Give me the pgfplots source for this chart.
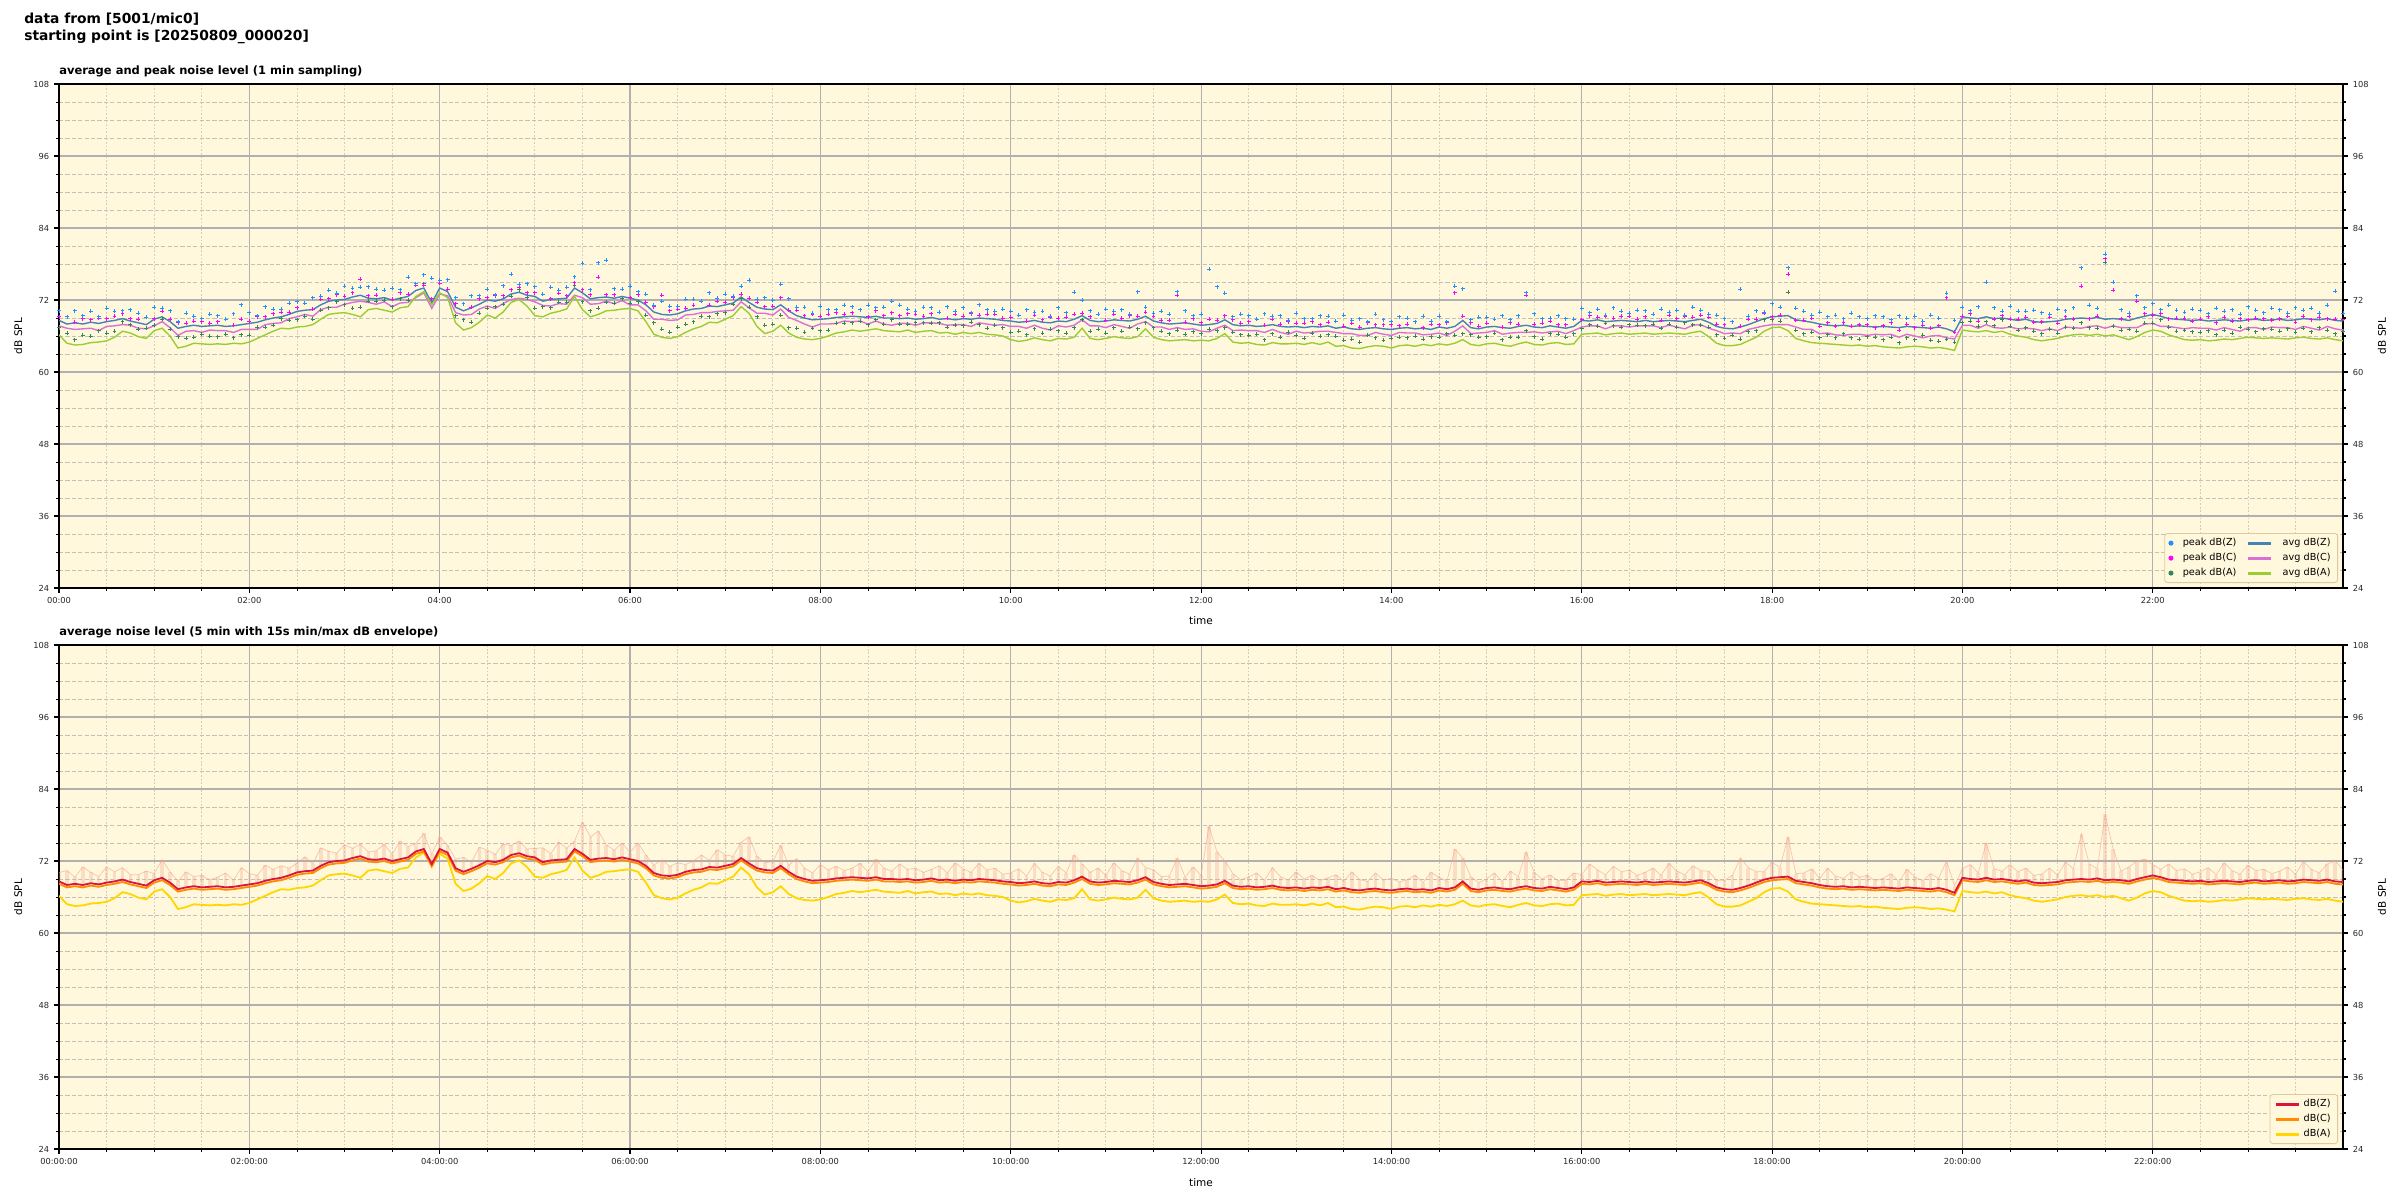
\documentclass[border=0pt]{standalone}
\usepackage{pgfplots}
\pgfplotsset{compat=1.18}
\usepackage{pgfplotstable}
\usepackage{fontspec}
\setmainfont{DejaVu Sans}
\setsansfont{DejaVu Sans}

\definecolor{bgc}{HTML}{FFF8DC}
\definecolor{gridmaj}{HTML}{B0B0B0}
\definecolor{gridminy}{HTML}{C4C0B8}
\definecolor{gridminx}{HTML}{D2CCBC}
\definecolor{peakZ}{HTML}{1E90FF}
\definecolor{peakC}{HTML}{FF00FF}
\definecolor{peakA}{HTML}{2E8B57}
\definecolor{avgZ}{HTML}{4682B4}
\definecolor{avgC}{HTML}{DA70D6}
\definecolor{avgA}{HTML}{9ACD32}
\definecolor{cZ}{HTML}{DC143C}
\definecolor{cC}{HTML}{FF8C00}
\definecolor{cA}{HTML}{FFD700}
\definecolor{envc}{HTML}{F4A08A}
\definecolor{legedge}{HTML}{DEC9A0}

\pgfplotstableread{
t Z C A pZ pC pA E
0 68.6 67.7 66.2 70.2 69.2 67.4 70.1
5 68.0 67.3 64.8 69.2 69.2 66.5 70.4
10 68.2 67.1 64.5 70.2 68.3 65.4 69.3
15 68.0 67.2 64.6 69.4 68.9 66.1 71.0
20 68.3 67.3 64.9 70.1 68.7 66.0 70.1
25 68.1 66.9 65.0 69.2 69.0 66.9 69.4
30 68.4 67.6 65.2 70.6 68.9 66.5 71.0
35 68.6 67.7 65.8 70.1 69.3 66.8 70.2
40 68.9 67.9 66.8 70.2 69.7 68.4 70.9
45 68.5 67.8 66.5 70.4 68.9 67.9 69.7
50 68.2 67.3 65.9 69.8 68.8 67.1 69.7
55 67.9 67.2 65.6 69.1 69.1 67.3 70.3
60 68.8 67.7 66.9 70.8 68.9 67.8 69.9
65 69.2 68.4 67.3 70.6 70.1 68.8 72.2
70 68.4 67.4 66.0 70.2 68.8 67.1 70.2
75 67.3 66.1 64.0 68.4 68.2 65.9 68.6
80 67.6 66.8 64.3 69.8 68.1 65.6 70.2
85 67.8 66.9 64.8 69.3 68.5 65.8 69.4
90 67.6 66.6 64.7 68.9 68.4 66.3 69.6
95 67.7 67.0 64.6 69.6 68.1 66.0 68.9
100 67.8 66.9 64.7 69.4 68.4 65.9 69.3
105 67.6 66.9 64.6 68.8 68.8 66.3 70.0
110 67.7 66.6 64.8 69.7 67.8 65.7 68.8
115 67.9 67.1 64.7 71.2 68.8 66.2 70.9
120 68.1 67.1 65.0 69.9 68.5 66.1 69.9
125 68.3 67.1 65.6 69.4 69.2 67.5 69.6
130 68.7 67.9 66.2 70.9 69.2 67.5 71.3
135 69.0 68.1 66.8 70.5 69.7 67.8 70.6
140 69.2 68.2 67.3 70.5 70.0 68.9 71.2
145 69.6 68.9 67.2 71.5 70.0 68.6 70.8
150 70.1 69.2 67.5 71.7 70.7 68.7 71.6
155 70.3 69.6 67.6 71.5 71.5 69.3 72.7
160 70.4 69.3 67.9 72.4 70.5 68.8 71.5
165 71.2 70.4 68.8 72.6 72.1 70.3 74.2
170 71.8 70.8 69.6 73.6 72.2 70.7 73.6
175 72.0 70.8 69.8 73.1 72.9 71.7 73.3
180 72.1 71.3 69.9 74.3 72.6 71.2 74.7
185 72.5 71.6 69.6 74.0 73.2 70.6 74.1
190 72.8 71.8 69.2 74.1 75.5 70.8 74.8
195 72.3 71.6 70.4 74.2 72.7 71.8 73.5
200 72.2 71.3 70.6 73.8 72.8 71.8 73.7
205 72.4 71.7 70.3 73.6 73.6 72.0 74.8
210 72.0 70.9 70.0 74.0 72.1 70.9 73.1
215 72.3 71.5 70.7 73.7 73.2 72.2 75.3
220 72.6 71.6 70.9 75.8 73.0 72.0 74.4
225 73.6 72.4 72.6 74.7 74.5 74.5 74.9
230 74.0 73.2 73.4 76.2 74.5 74.7 76.6
235 71.5 70.6 71.2 75.6 72.2 72.2 73.1
240 74.0 73.0 73.2 75.3 74.8 74.8 76.0
245 73.4 72.7 72.4 75.4 73.8 73.8 74.6
250 70.8 69.9 68.2 72.4 71.4 69.4 72.3
255 70.2 69.5 67.0 71.4 71.4 68.7 72.6
260 70.7 69.6 67.4 72.7 70.8 68.3 71.8
265 71.3 70.5 68.3 72.7 72.2 69.8 74.3
270 72.0 71.0 69.5 73.8 72.4 70.6 73.8
275 71.8 70.6 69.0 72.9 72.7 70.9 73.1
280 72.2 71.4 70.0 74.4 72.7 71.3 74.8
285 73.0 72.1 71.6 76.3 73.7 72.6 74.6
290 73.3 72.3 72.1 74.6 74.1 73.7 75.3
295 72.8 72.1 71.0 74.7 73.2 72.4 74.0
300 72.6 71.7 69.4 74.2 73.2 70.6 74.1
305 71.8 71.1 69.2 73.0 73.0 70.9 74.2
310 72.1 71.0 69.8 74.1 72.2 70.7 73.2
315 72.2 71.4 70.1 73.6 73.1 71.6 75.2
320 72.3 71.3 70.5 74.1 72.7 71.6 74.1
325 74.0 72.8 72.6 75.9 74.9 74.5 75.3
330 73.2 72.4 70.4 78.1 73.7 71.7 78.5
335 72.2 71.3 69.2 73.7 72.9 70.2 76.0
340 72.4 71.4 69.6 78.2 75.8 70.6 77.0
345 72.5 71.8 70.2 78.6 72.9 71.6 74.7
350 72.3 71.4 70.3 73.9 72.9 71.5 73.8
355 72.6 71.9 70.5 73.8 73.8 72.2 75.0
360 72.3 71.2 70.6 74.3 72.4 71.5 73.4
365 72.0 71.2 70.2 73.4 72.9 71.7 75.0
370 71.2 70.2 68.4 73.0 71.6 69.5 73.0
375 70.0 68.8 66.3 71.1 70.9 68.2 71.3
380 69.6 68.8 65.8 71.8 72.8 67.1 72.2
385 69.5 68.6 65.6 71.0 70.2 66.6 71.1
390 69.7 68.7 65.9 71.0 70.5 67.5 71.7
395 70.2 69.5 66.6 72.1 70.6 68.0 71.4
400 70.5 69.6 67.2 72.1 71.1 68.4 72.0
405 70.6 69.9 67.6 71.8 71.8 69.3 73.0
410 71.0 69.9 68.3 73.2 71.1 69.2 72.1
415 70.9 70.1 68.2 72.3 71.8 69.7 73.9
420 71.2 70.2 68.8 73.0 71.6 69.9 73.0
425 71.5 70.3 69.4 72.6 72.4 71.3 72.8
430 72.5 71.7 70.9 74.3 73.0 72.2 75.1
435 71.6 70.7 69.8 75.3 72.3 70.8 76.0
440 70.8 69.8 67.6 72.1 71.6 69.2 72.8
445 70.5 69.8 66.4 72.4 70.9 67.8 71.7
450 70.4 69.5 66.8 72.0 71.0 68.0 71.9
455 71.2 70.5 67.8 74.6 72.4 69.5 74.6
460 70.2 69.1 66.5 72.2 70.3 67.4 71.3
465 69.4 68.6 65.8 70.8 70.3 67.3 72.4
470 69.0 68.0 65.5 70.8 69.4 66.6 70.8
475 68.7 67.5 65.4 69.8 69.6 67.3 70.0
480 68.8 68.0 65.6 71.0 69.3 66.9 71.4
485 68.9 68.0 66.0 70.4 69.6 67.0 70.5
490 69.1 68.1 66.5 70.4 69.9 68.1 71.1
495 69.2 68.5 66.7 71.1 69.6 68.1 70.4
500 69.3 68.4 67.0 70.9 69.9 68.2 70.8
505 69.2 68.5 66.8 70.4 70.4 68.5 71.6
510 69.1 68.0 67.0 71.1 69.2 67.9 70.2
515 69.3 68.5 67.2 70.7 70.2 68.7 72.3
520 69.0 68.0 66.9 70.8 69.4 68.0 70.8
525 69.0 67.8 66.8 71.8 69.9 68.7 70.3
530 68.9 68.1 66.7 71.1 69.4 68.0 71.5
535 69.0 68.1 67.0 70.5 69.7 68.0 70.6
540 68.8 67.8 66.6 70.1 69.6 68.2 70.8
545 68.9 68.2 66.8 70.8 69.3 68.2 70.1
550 69.1 68.2 66.9 70.7 69.7 68.1 70.6
555 68.8 68.1 66.5 70.0 70.0 68.2 71.2
560 68.9 67.8 66.6 70.9 69.0 67.5 70.0
565 68.7 67.9 66.3 70.1 69.6 67.8 71.7
570 68.9 67.9 66.6 70.7 69.3 67.7 70.7
575 68.8 67.6 66.4 69.9 69.7 68.3 70.1
580 69.0 68.2 66.6 71.2 69.5 67.9 71.6
585 68.9 68.0 66.3 70.4 69.6 67.3 70.5
590 68.8 67.8 66.2 70.1 69.6 67.8 70.8
595 68.6 67.9 66.0 70.5 69.0 67.4 69.8
600 68.5 67.6 65.4 70.1 69.1 66.6 70.0
605 68.3 67.6 65.1 69.5 69.5 66.8 70.7
610 68.4 67.3 65.3 70.4 68.5 66.2 69.5
615 68.6 67.8 65.7 70.0 69.5 67.2 71.6
620 68.3 67.3 65.4 70.1 68.7 66.5 70.1
625 68.2 67.0 65.2 69.3 69.1 67.1 69.5
630 68.5 67.7 65.6 70.7 69.0 66.9 71.1
635 68.4 67.5 65.5 69.9 69.1 66.5 70.0
640 68.8 67.8 65.8 73.3 69.6 67.4 73.0
645 69.4 68.7 67.3 72.0 69.8 68.7 71.5
650 68.6 67.7 65.6 70.2 69.2 66.8 70.1
655 68.4 67.7 65.4 69.6 69.6 67.1 70.8
660 68.5 67.4 65.6 70.5 68.6 66.5 69.6
665 68.7 67.9 65.9 70.1 69.6 67.4 71.7
670 68.6 67.6 65.7 70.4 69.0 66.8 70.4
675 68.5 67.3 65.6 69.6 69.4 67.5 69.8
680 68.8 68.0 65.9 73.4 69.3 67.2 72.5
685 69.3 68.4 67.2 70.8 70.0 68.2 70.9
690 68.5 67.5 65.8 69.8 69.3 67.4 70.5
695 68.2 67.5 65.4 70.1 68.6 66.8 69.4
700 68.0 67.1 65.2 69.6 68.6 66.4 69.5
705 68.1 67.4 65.3 73.4 72.8 67.0 72.5
710 68.2 67.1 65.4 70.2 68.3 66.3 69.3
715 68.0 67.2 65.2 69.4 68.9 66.7 71.0
720 67.8 66.8 65.3 69.6 68.2 66.4 69.6
725 67.9 66.7 65.2 77.1 68.8 67.1 77.8
730 68.1 67.3 65.6 74.2 68.6 66.9 73.5
735 68.7 67.8 66.4 73.1 69.4 67.4 72.0
740 67.9 66.9 65.0 69.2 68.7 66.6 69.9
745 67.7 67.0 64.8 69.6 68.1 66.2 68.9
750 67.8 66.9 64.9 69.4 68.4 66.1 69.3
755 67.6 66.9 64.6 68.8 68.8 66.3 70.0
760 67.7 66.6 64.5 69.7 67.8 65.4 68.8
765 67.9 67.1 64.9 69.3 68.8 66.4 70.9
770 67.6 66.6 64.7 69.4 68.0 65.8 69.4
775 67.5 66.3 64.7 68.6 68.4 66.6 68.8
780 67.6 66.8 64.8 69.8 68.1 66.1 70.2
785 67.4 66.5 64.6 68.9 68.1 65.6 69.0
790 67.6 66.6 64.9 68.9 68.4 66.5 69.6
795 67.5 66.8 64.6 69.4 67.9 66.0 68.7
800 67.7 66.8 65.0 69.3 68.3 66.2 69.2
805 67.3 66.6 64.3 68.5 68.5 66.0 69.7
810 67.5 66.4 64.4 69.5 67.6 65.3 68.6
815 67.2 66.4 64.0 68.6 68.1 65.5 70.2
820 67.1 66.1 63.9 68.9 67.5 65.0 68.9
825 67.3 66.1 64.2 68.4 68.2 66.1 68.6
830 67.4 66.6 64.4 69.6 67.9 65.7 70.0
835 67.2 66.3 64.3 68.7 67.9 65.3 68.8
840 67.1 66.1 64.0 68.4 67.9 65.6 69.1
845 67.3 66.6 64.4 69.2 67.7 65.8 68.5
850 67.4 66.5 64.5 69.0 68.0 65.7 68.9
855 67.2 66.5 64.3 68.4 68.4 66.0 69.6
860 67.3 66.2 64.6 69.3 67.4 65.5 68.4
865 67.1 66.3 64.4 68.5 68.0 65.9 70.1
870 67.5 66.5 64.7 69.3 67.9 65.8 69.3
875 67.3 66.1 64.5 68.4 68.2 66.4 68.6
880 67.6 66.8 64.8 74.3 73.2 66.1 74.0
885 68.6 67.7 65.4 73.9 69.3 66.4 72.5
890 67.4 66.4 64.6 68.7 68.2 66.2 69.4
895 67.2 66.5 64.4 69.1 67.6 65.8 68.4
900 67.5 66.6 64.7 69.1 68.1 65.9 69.0
905 67.6 66.9 64.8 68.8 68.8 66.5 70.0
910 67.4 66.3 64.5 69.4 67.5 65.4 68.5
915 67.3 66.5 64.3 68.7 68.2 65.8 70.3
920 67.6 66.6 64.7 69.4 68.0 65.8 69.4
925 67.8 66.6 65.0 73.2 72.8 66.9 73.5
930 67.5 66.7 64.6 69.7 68.0 65.9 70.1
935 67.4 66.5 64.5 68.9 68.1 65.5 69.0
940 67.7 66.7 64.8 69.0 68.5 66.4 69.7
945 67.5 66.8 64.9 69.4 67.9 66.3 68.7
950 67.3 66.4 64.6 68.9 67.9 65.8 68.8
955 67.6 66.9 64.7 68.8 68.8 66.4 70.0
960 68.6 67.5 66.3 70.6 68.7 67.2 69.7
965 68.5 67.7 66.4 69.9 69.4 67.9 71.5
970 68.7 67.7 66.5 70.5 69.1 67.6 70.5
975 68.4 67.2 66.2 69.5 69.3 68.1 69.7
980 68.5 67.7 66.4 70.7 69.0 67.7 71.1
985 68.6 67.7 66.5 70.1 69.3 67.5 70.2
990 68.5 67.5 66.3 69.8 69.3 67.9 70.5
995 68.4 67.7 66.4 70.3 68.8 67.8 69.6
1000 68.6 67.7 66.5 70.2 69.2 67.7 70.1
1005 68.4 67.7 66.3 69.6 69.6 68.0 70.8
1010 68.5 67.4 66.4 70.5 68.6 67.3 69.6
1015 68.6 67.8 66.5 70.0 69.5 68.0 71.6
1020 68.5 67.5 66.4 70.3 68.9 67.5 70.3
1025 68.4 67.2 66.3 69.5 69.3 68.2 69.7
1030 68.6 67.8 66.6 70.8 69.1 67.9 71.2
1035 68.8 67.9 66.8 70.3 69.5 67.8 70.4
1040 68.3 67.3 65.9 69.6 69.1 67.5 70.3
1045 67.6 66.9 64.8 69.5 68.0 66.2 68.8
1050 67.3 66.4 64.4 68.9 67.9 65.6 68.8
1055 67.2 66.5 64.4 68.4 68.4 66.1 69.6
1060 67.5 66.4 64.6 73.8 67.6 65.5 72.5
1065 67.9 67.1 65.2 69.3 68.8 66.7 70.9
1070 68.4 67.4 65.8 70.2 68.8 66.9 70.2
1075 68.9 67.7 66.8 70.0 69.8 68.7 70.2
1080 69.2 67.9 67.4 71.4 69.2 68.7 71.8
1085 69.3 67.9 67.5 70.8 69.5 68.5 70.9
1090 69.4 67.9 66.9 77.4 76.3 73.3 76.0
1095 68.7 67.5 65.6 70.6 68.6 67.0 69.9
1100 68.5 67.1 65.2 70.1 68.6 66.4 70.0
1105 68.3 67.1 64.9 69.5 69.0 66.6 70.7
1110 68.0 66.4 64.8 70.0 67.6 65.7 69.1
1115 67.8 66.5 64.7 69.2 68.2 66.2 70.8
1120 67.7 66.2 64.6 69.5 67.6 65.7 69.5
1125 67.8 66.1 64.5 68.9 68.2 66.4 69.1
1130 67.6 66.3 64.4 69.8 67.6 65.7 70.2
1135 67.7 66.3 64.5 69.2 67.9 65.5 69.3
1140 67.6 66.1 64.3 68.9 67.9 65.9 69.6
1145 67.5 66.3 64.4 69.4 67.4 65.8 68.7
1150 67.6 66.2 64.2 69.2 67.7 65.4 69.1
1155 67.5 66.3 64.1 68.7 68.2 65.8 69.9
1160 67.4 65.8 64.0 69.4 67.0 64.9 68.5
1165 67.6 66.3 64.2 69.0 68.0 65.7 70.6
1170 67.5 66.0 64.3 69.3 67.4 65.4 69.3
1175 67.4 65.7 64.2 68.5 67.8 66.1 68.7
1180 67.3 66.0 64.0 69.5 67.3 65.3 69.9
1185 67.5 66.1 64.1 69.0 67.7 65.1 69.1
1190 67.2 65.7 63.9 73.1 72.4 65.5 72.0
1195 66.7 65.5 63.6 68.6 66.6 65.0 67.9
1200 69.2 67.8 67.0 70.8 69.3 68.2 70.7
1205 69.0 67.8 66.8 70.2 69.7 68.5 71.4
1210 68.9 67.3 66.7 70.9 68.5 67.6 70.0
1215 69.2 67.9 66.9 75.0 75.0 68.4 75.0
1220 68.9 67.4 66.6 70.7 68.8 67.7 70.7
1225 69.0 67.3 66.8 70.1 69.4 68.7 70.3
1230 68.8 67.5 66.3 71.0 68.8 67.6 71.4
1235 68.6 67.2 66.0 70.1 68.8 67.0 70.2
1240 68.8 67.3 65.8 70.1 69.1 67.4 70.8
1245 68.4 67.2 65.4 70.3 68.3 66.8 69.6
1250 68.3 66.9 65.2 69.9 68.4 66.4 69.8
1255 68.4 67.2 65.4 69.6 69.1 67.1 70.8
1260 68.5 66.9 65.6 70.5 68.1 66.5 69.6
1265 68.8 67.5 66.0 70.2 69.2 67.5 71.8
1270 68.9 67.4 66.2 70.7 68.8 67.3 70.7
1275 69.0 67.3 66.3 77.4 74.3 68.2 76.5
1280 68.9 67.6 66.1 71.1 68.9 67.4 71.5
1285 69.1 67.7 66.3 70.6 69.3 67.3 70.7
1290 68.8 67.3 66.0 79.6 78.9 78.3 79.8
1295 68.9 67.7 66.2 75.0 73.6 67.6 74.0
1300 68.8 67.4 65.8 70.4 68.9 67.0 70.3
1305 68.6 67.4 65.4 69.8 69.3 67.1 71.0
1310 69.0 67.4 65.9 72.7 71.8 66.8 72.0
1315 69.3 68.0 66.6 70.7 69.7 68.1 72.3
1320 69.6 68.1 67.0 71.4 69.5 68.1 71.4
1325 69.3 67.6 66.8 70.4 69.7 68.7 70.6
1330 68.9 67.6 66.2 71.1 68.9 67.5 71.5
1335 68.8 67.4 65.8 70.3 69.0 66.8 70.4
1340 68.7 67.2 65.4 70.0 69.0 67.0 70.7
1345 68.6 67.4 65.3 70.5 68.5 66.7 69.8
1350 68.7 67.3 65.4 70.3 68.8 66.6 70.2
1355 68.5 67.3 65.2 69.7 69.2 66.9 70.9
1360 68.6 67.0 65.3 70.6 68.2 66.2 69.7
1365 68.7 67.4 65.5 70.1 69.1 67.0 71.7
1370 68.6 67.1 65.4 70.4 68.5 66.5 70.4
1375 68.5 66.8 65.6 69.6 68.9 67.5 69.8
1380 68.7 67.4 65.8 70.9 68.7 67.1 71.3
1385 68.8 67.4 65.7 70.3 69.0 66.7 70.4
1390 68.6 67.1 65.6 69.9 68.9 67.2 70.6
1395 68.7 67.5 65.7 70.6 68.6 67.1 69.9
1400 68.8 67.4 65.6 70.4 68.9 66.8 70.3
1405 68.6 67.4 65.5 69.8 69.3 67.2 71.0
1410 68.7 67.1 65.7 70.7 68.3 66.6 69.8
1415 68.9 67.6 65.8 70.3 69.3 67.3 71.9
1420 68.8 67.3 65.6 70.6 68.7 66.7 70.6
1425 68.7 67.0 65.5 69.8 69.1 67.4 70.0
1430 68.9 67.6 65.7 71.1 68.9 67.0 71.5
1435 68.6 67.2 65.4 73.5 68.8 66.4 72.0
1440 68.5 67.0 65.2 69.8 68.8 66.8 70.5
}\data

% dB(C) of the 5 min averages (lower chart)
\pgfplotstableread{
t BC
0 68.2
5 67.6
10 67.8
15 67.6
20 67.9
25 67.7
30 68.0
35 68.2
40 68.5
45 68.1
50 67.8
55 67.5
60 68.4
65 68.8
70 68.0
75 66.9
80 67.2
85 67.4
90 67.2
95 67.3
100 67.4
105 67.2
110 67.3
115 67.5
120 67.7
125 67.9
130 68.3
135 68.6
140 68.8
145 69.2
150 69.7
155 69.9
160 70.0
165 70.8
170 71.4
175 71.6
180 71.7
185 72.1
190 72.4
195 71.9
200 71.8
205 72.0
210 71.6
215 71.9
220 72.2
225 73.2
230 73.6
235 71.1
240 73.6
245 73.0
250 70.4
255 69.8
260 70.3
265 70.9
270 71.6
275 71.4
280 71.8
285 72.6
290 72.9
295 72.4
300 72.2
305 71.4
310 71.7
315 71.8
320 71.9
325 73.6
330 72.8
335 71.8
340 72.0
345 72.1
350 71.9
355 72.2
360 71.9
365 71.6
370 70.8
375 69.6
380 69.2
385 69.1
390 69.3
395 69.8
400 70.1
405 70.2
410 70.6
415 70.5
420 70.8
425 71.1
430 72.1
435 71.2
440 70.4
445 70.1
450 70.0
455 70.8
460 69.8
465 69.0
470 68.6
475 68.3
480 68.4
485 68.5
490 68.7
495 68.8
500 68.9
505 68.8
510 68.7
515 68.9
520 68.6
525 68.6
530 68.5
535 68.6
540 68.4
545 68.5
550 68.7
555 68.4
560 68.5
565 68.3
570 68.5
575 68.4
580 68.6
585 68.5
590 68.4
595 68.2
600 68.1
605 67.9
610 68.0
615 68.2
620 67.9
625 67.8
630 68.1
635 68.0
640 68.4
645 69.0
650 68.2
655 68.0
660 68.1
665 68.3
670 68.2
675 68.1
680 68.4
685 68.9
690 68.1
695 67.8
700 67.6
705 67.7
710 67.8
715 67.6
720 67.4
725 67.5
730 67.7
735 68.3
740 67.5
745 67.3
750 67.4
755 67.2
760 67.3
765 67.5
770 67.2
775 67.1
780 67.2
785 67.0
790 67.2
795 67.1
800 67.3
805 66.9
810 67.1
815 66.8
820 66.7
825 66.9
830 67.0
835 66.8
840 66.7
845 66.9
850 67.0
855 66.8
860 66.9
865 66.7
870 67.1
875 66.9
880 67.2
885 68.2
890 67.0
895 66.8
900 67.1
905 67.2
910 67.0
915 66.9
920 67.2
925 67.4
930 67.1
935 67.0
940 67.3
945 67.1
950 66.9
955 67.2
960 68.2
965 68.1
970 68.3
975 68.0
980 68.1
985 68.2
990 68.1
995 68.0
1000 68.2
1005 68.0
1010 68.1
1015 68.2
1020 68.1
1025 68.0
1030 68.2
1035 68.4
1040 67.9
1045 67.2
1050 66.9
1055 66.8
1060 67.1
1065 67.5
1070 68.0
1075 68.5
1080 68.8
1085 68.9
1090 69.0
1095 68.3
1100 68.1
1105 67.9
1110 67.6
1115 67.4
1120 67.3
1125 67.4
1130 67.2
1135 67.3
1140 67.2
1145 67.1
1150 67.2
1155 67.1
1160 67.0
1165 67.2
1170 67.1
1175 67.0
1180 66.9
1185 67.1
1190 66.8
1195 66.3
1200 68.8
1205 68.6
1210 68.5
1215 68.8
1220 68.5
1225 68.6
1230 68.4
1235 68.2
1240 68.4
1245 68.0
1250 67.9
1255 68.0
1260 68.1
1265 68.4
1270 68.5
1275 68.6
1280 68.5
1285 68.7
1290 68.4
1295 68.5
1300 68.4
1305 68.2
1310 68.6
1315 68.9
1320 69.2
1325 68.9
1330 68.5
1335 68.4
1340 68.3
1345 68.2
1350 68.3
1355 68.1
1360 68.2
1365 68.3
1370 68.2
1375 68.1
1380 68.3
1385 68.4
1390 68.2
1395 68.3
1400 68.4
1405 68.2
1410 68.3
1415 68.5
1420 68.4
1425 68.3
1430 68.5
1435 68.2
1440 68.1
}\bot

\pgfplotsset{
  every axis title shift=0pt,
  noise/.style={
    scale only axis, width=1644.5bp, height=362.9bp,
    xmin=0, xmax=1440, ymin=24, ymax=108,
    xtick={0,120,...,1320},
    minor xtick={30,60,90,150,180,210,270,300,330,390,420,450,510,540,570,630,660,690,750,780,810,870,900,930,990,1020,1050,1110,1140,1170,1230,1260,1290,1350,1380,1410},
    ytick={24,36,...,108},
    minor ytick={27,30,33,39,42,45,51,54,57,63,66,69,75,78,81,87,90,93,99,102,105},
    grid=both,
    axis background/.style={fill=bgc},
    major grid style={draw=gridmaj, line width=0.8bp},
    minor x grid style={draw=gridminx, line width=0.6bp, dash pattern=on 1.3bp off 1.3bp},
    minor y grid style={draw=gridminy, line width=0.6bp, dash pattern=on 3bp off 1.6bp},
    tick align=outside,
    major tick length=3.5bp, minor tick length=2bp,
    every tick/.style={black, line width=0.8bp},
    minor tick style={line width=0.6bp},
    axis line style={line width=0.9bp},
    xtick pos=bottom, ytick pos=both, yticklabel pos=left,
    /pgf/number format/assume math mode=true,
    tick label style={font=\fontsize{6}{7}\selectfont, text=black!85},
    xlabel style={font=\fontsize{7.6}{9}\selectfont, at={(axis description cs:0.5,-0.064)}, anchor=center},
    ylabel style={font=\fontsize{7.6}{9}\selectfont, at={(axis description cs:-0.0179,0.5)}, anchor=center},
    title style={font=\bfseries\fontsize{8.3}{10}\selectfont, anchor=base west, inner xsep=0pt, inner ysep=0pt},
    legend cell align=left,
    legend style={font=\fontsize{7}{8}\selectfont, fill=bgc, draw=legedge, rounded corners=2bp, line width=0.6bp,
      inner xsep=3bp, inner ysep=1.5bp},
  },
  rightax/.style={
    scale only axis, width=1644.5bp, height=362.9bp,
    xmin=0, xmax=1440, ymin=24, ymax=108,
    ytick={24,36,...,108}, minor ytick={27,30,33,39,42,45,51,54,57,63,66,69,75,78,81,87,90,93,99,102,105},
    xtick=\empty,
    tick align=outside,
    major tick length=3.5bp, minor tick length=2bp,
    every tick/.style={black, line width=0.8bp},
    axis line style={draw=none},
    ytick pos=right, yticklabel pos=right,
    /pgf/number format/assume math mode=true,
    tick label style={font=\fontsize{6}{7}\selectfont, text=black!85},
    ylabel=dB SPL,
    ylabel style={font=\fontsize{7.6}{9}\selectfont, at={(axis description cs:1.0170,0.5)}, anchor=center},
  }
}

\begin{document}
\begin{tikzpicture}
\useasboundingbox (0,0) rectangle (1728bp,864bp);
\node[anchor=west, font=\bfseries\fontsize{10}{12}\selectfont, inner sep=0pt] at (17.3bp,850.2bp) {data from [5001/mic0]};
\node[anchor=west, font=\bfseries\fontsize{10}{12}\selectfont, inner sep=0pt] at (17.3bp,837.5bp) {starting point is [20250809\_000020]};

% ---------- top axis ----------
\begin{axis}[noise, at={(42.5bp,440.6bp)}, anchor=south west,
  xticklabels={00:00,02:00,04:00,06:00,08:00,10:00,12:00,14:00,16:00,18:00,20:00,22:00},
  xlabel=time, ylabel=dB SPL,
  title={average and peak noise level (1 min sampling)},
  title style={at={(axis description cs:0,1.0179)}},
  legend columns=2,
  legend style={at={(axis description cs:0.9978,0.0099)}, anchor=south east, column sep=5bp},
]
\addplot[avgC, line width=1bp, forget plot] table[x=t,y=C]{\data};
\addplot[avgZ, line width=1bp, forget plot] table[x=t,y=Z]{\data};
\addplot[avgA, line width=1bp, forget plot] table[x=t,y=A]{\data};
\addplot[only marks, mark=+, mark size=1.4bp, peakA, mark options={line width=0.6bp}, forget plot] table[x=t,y=pA]{\data};
\addplot[only marks, mark=+, mark size=1.4bp, peakC, mark options={line width=0.6bp}, forget plot] table[x=t,y=pC]{\data};
\addplot[only marks, mark=+, mark size=1.4bp, peakZ, mark options={line width=0.6bp}, forget plot] table[x=t,y=pZ]{\data};
\addlegendimage{only marks, mark=*, mark size=1.5bp, peakZ}
\addlegendentry{peak dB(Z)}
\addlegendimage{avgZ, line width=2.2bp}
\addlegendentry{avg dB(Z)}
\addlegendimage{only marks, mark=*, mark size=1.5bp, peakC}
\addlegendentry{peak dB(C)}
\addlegendimage{avgC, line width=2.2bp}
\addlegendentry{avg dB(C)}
\addlegendimage{only marks, mark=*, mark size=1.5bp, peakA}
\addlegendentry{peak dB(A)}
\addlegendimage{avgA, line width=2.2bp}
\addlegendentry{avg dB(A)}
\end{axis}
\begin{axis}[rightax, at={(42.5bp,440.6bp)}, anchor=south west]
\addplot[draw=none] coordinates {(0,24) (1440,108)};
\end{axis}

% ---------- bottom axis ----------
\begin{axis}[noise, at={(42.5bp,36.7bp)}, anchor=south west,
  xticklabels={00:00:00,02:00:00,04:00:00,06:00:00,08:00:00,10:00:00,12:00:00,14:00:00,16:00:00,18:00:00,20:00:00,22:00:00},
  xlabel=time, ylabel=dB SPL,
  xlabel style={at={(axis description cs:0.5,-0.0656)}},
  title={average noise level (5 min with 15s min/max dB envelope)},
  title style={at={(axis description cs:0,1.0179)}},
  legend style={at={(axis description cs:0.9978,0.0099)}, anchor=south east},
]
\addplot[envc, line width=0.5bp, opacity=0.6, forget plot] table[x=t,y=E]{\data};
\addplot[draw=none, forget plot,
  error bars/.cd, y dir=plus, y explicit, error mark=none,
  error bar style={envc, line width=2.6bp, opacity=0.3}]
  table[x=t, y=Z, y error expr=\thisrow{E}-\thisrow{Z}]{\data};
\addplot[cA, line width=1.3bp, forget plot] table[x=t,y=A]{\data};
\addplot[cC, line width=1.3bp, forget plot] table[x=t,y=BC]{\bot};
\addplot[cZ, line width=1.3bp, forget plot] table[x=t,y=Z]{\data};
\addlegendimage{cZ, line width=2.2bp}
\addlegendentry{dB(Z)}
\addlegendimage{cC, line width=2.2bp}
\addlegendentry{dB(C)}
\addlegendimage{cA, line width=2.2bp}
\addlegendentry{dB(A)}
\end{axis}
\begin{axis}[rightax, at={(42.5bp,36.7bp)}, anchor=south west]
\addplot[draw=none] coordinates {(0,24) (1440,108)};
\end{axis}
\end{tikzpicture}
\end{document}
